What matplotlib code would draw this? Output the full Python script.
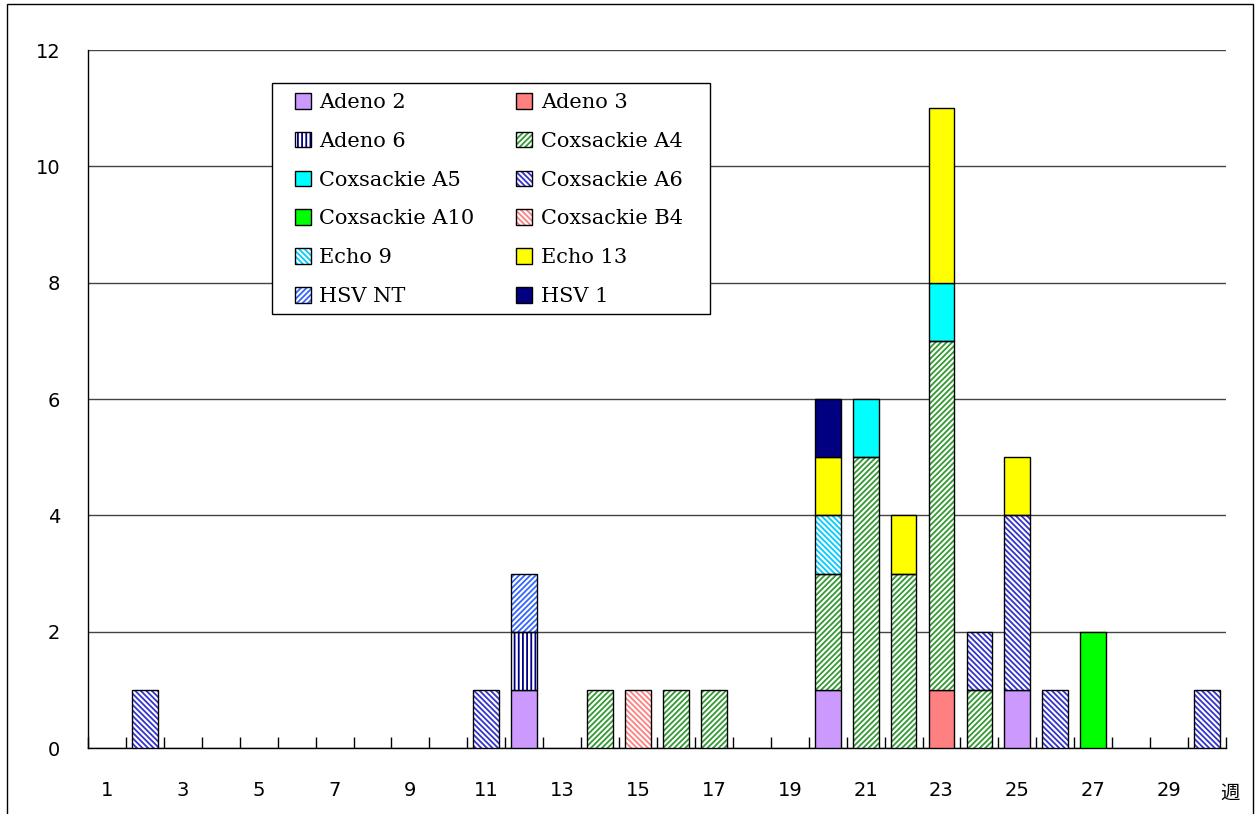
import matplotlib
matplotlib.use("Agg")
import matplotlib.pyplot as plt
import numpy as np
from matplotlib.patches import Patch, Rectangle

weeks = list(range(1, 31))
series = ["Adeno 2", "Adeno 3", "Adeno 6", "Coxsackie A4", "Coxsackie A5",
          "Coxsackie A6", "Coxsackie A10", "Coxsackie B4", "Echo 9", "Echo 13",
          "HSV NT", "HSV 1"]

# counts per week (week: value) for each series
adeno2 = {12: 1, 20: 1, 25: 1}
adeno3 = {23: 1}
adeno6 = {12: 1}
coxA4 = {14: 1, 16: 1, 17: 1, 20: 2, 21: 5, 22: 3, 23: 6, 24: 1}
coxA5 = {21: 1, 23: 1}
coxA6 = {2: 1, 11: 1, 24: 1, 25: 3, 26: 1, 30: 1}
coxA10 = {27: 2}
coxB4 = {15: 1}
echo9 = {20: 1}
echo13 = {20: 1, 22: 1, 23: 3, 25: 1}
hsvnt = {12: 1}
hsv1 = {20: 1}
data = [adeno2, adeno3, adeno6, coxA4, coxA5, coxA6, coxA10, coxB4, echo9, echo13, hsvnt, hsv1]

# (facecolor, hatch, hatchcolor)
styles = [
    ("#CC99FF", None, None),
    ("#FF8080", None, None),
    ("white", "||||", "#000080"),
    ("white", "//////", "#339933"),
    ("#00FFFF", None, None),
    ("white", "\\\\\\\\\\\\", "#3333CC"),
    ("#00FF00", None, None),
    ("white", "\\\\\\\\\\\\", "#FF8080"),
    ("white", "\\\\\\\\\\\\", "#00CCFF"),
    ("#FFFF00", None, None),
    ("white", "//////", "#3366FF"),
    ("#000080", None, None),
]

plt.rcParams['hatch.linewidth'] = 1.3
fig = plt.figure(figsize=(12.56, 8.14), dpi=100)
AX_L, AX_R, AX_T, AX_B = 88, 1226, 50, 748
ax = fig.add_axes([AX_L/1256, 1-AX_B/814, (AX_R-AX_L)/1256, (AX_B-AX_T)/814])
AW, AH = AX_R - AX_L, AX_B - AX_T

x = np.array(weeks)
bottom = np.zeros(len(weeks))
width = 0.68
handles = []
for name, d, (fc, hatch, hc) in zip(series, data, styles):
    vals = np.array([d.get(w, 0) for w in weeks], dtype=float)
    mask = vals > 0
    if hatch:
        ax.bar(x[mask], vals[mask], width, bottom=bottom[mask], facecolor=fc,
               edgecolor=hc, hatch=hatch, linewidth=0, zorder=3)
        ax.bar(x[mask], vals[mask], width, bottom=bottom[mask], fill=False,
               edgecolor="black", linewidth=1, zorder=4)
        h = (Patch(facecolor=fc, edgecolor=hc, hatch=hatch, linewidth=0),
             Patch(fill=False, edgecolor="black", linewidth=1))
    else:
        ax.bar(x[mask], vals[mask], width, bottom=bottom[mask], facecolor=fc,
               edgecolor="black", linewidth=1, zorder=3)
        h = Patch(facecolor=fc, edgecolor="black", linewidth=1)
    handles.append(h)
    bottom += vals

ax.set_xlim(0.5, 30.5)
ax.set_ylim(0, 12)
ax.set_yticks(np.arange(0, 13, 2))
ax.yaxis.grid(True, color="#444444", linewidth=1, zorder=0)
ax.set_axisbelow(True)
ax.tick_params(axis="y", length=0, pad=20, labelsize=14)
ax.set_xticks(np.arange(1, 31, 2))
ax.set_xticklabels([str(w) for w in range(1, 31, 2)])
ax.set_xticks(np.arange(0.5, 31, 1), minor=True)
ax.tick_params(axis="x", which="major", length=0, pad=24, labelsize=14)
ax.tick_params(axis="x", which="minor", length=8, direction="in", width=1)
for s in ["top", "right"]:
    ax.spines[s].set_visible(False)
for s in ["left", "bottom"]:
    ax.spines[s].set_linewidth(1)

# legend frame drawn separately to match position
ax.add_patch(Rectangle(((272-AX_L)/AW, (AX_B-314)/AH), (710-272)/AW, (314-83)/AH,
                       transform=ax.transAxes, facecolor="white", edgecolor="black",
                       linewidth=1, zorder=5, clip_on=False))
order = [0, 2, 4, 6, 8, 10, 1, 3, 5, 7, 9, 11]
leg = ax.legend([handles[i] for i in order], [series[i] for i in order], ncol=2,
                loc="upper left", bbox_to_anchor=((295-AX_L)/AW, (AX_B-93)/AH),
                borderaxespad=0, prop={"family": "DejaVu Serif", "size": 15},
                frameon=False, handlelength=0.77, handleheight=0.77,
                handletextpad=0.4, labelspacing=0.95, columnspacing=2.0,
                borderpad=0)
leg.set_zorder(6)

fig.text(1230/1256, 1-793/814, "週", fontsize=14, ha="center", va="center",
         family=["Noto Sans CJK JP", "DejaVu Sans"])

fig.patches.append(Rectangle((7/1256, -0.05), (1253-7)/1256, 1.05-4/814,
                             transform=fig.transFigure, fill=False,
                             edgecolor="black", linewidth=1))

fig.savefig("out.png", dpi=100)
